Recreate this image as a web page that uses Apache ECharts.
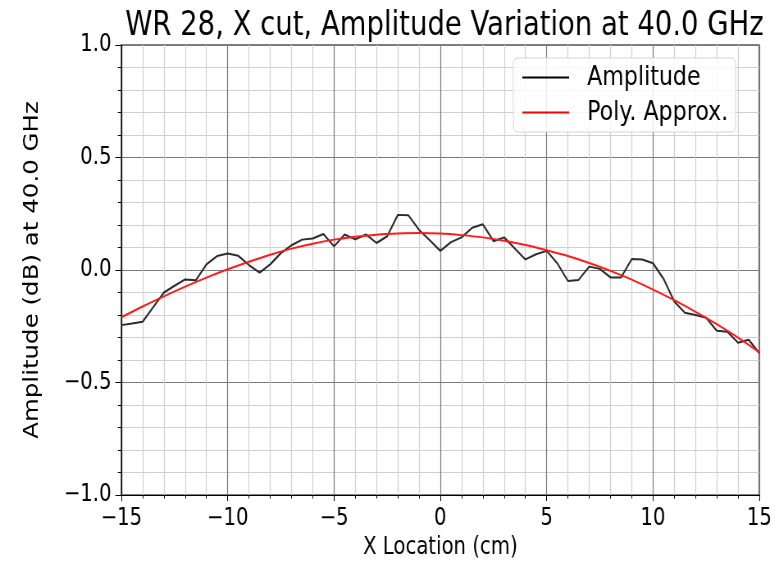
<!DOCTYPE html>
<html>
<head>
<meta charset="utf-8">
<script src="https://cdn.jsdelivr.net/npm/echarts@6/dist/echarts.min.js"></script>
<style>
html,body{margin:0;padding:0;background:#fff;overflow:hidden;width:779px;height:562px}
#wrap{position:relative;width:779px;height:562px;overflow:hidden}
#c{position:absolute;left:0;top:0;width:950px;height:562px;transform:scaleX(0.82);transform-origin:0 0}
</style>
</head>
<body>
<div id="wrap"><div id="c"></div></div>
<script>
const titleText = 'WR 28, X cut, Amplitude Variation at 40.0 GHz';
const xLabel = 'X Location (cm)';
const yLabel = 'Amplitude (dB) at 40.0 GHz';
const seriesNames = ['Amplitude', 'Poly. Approx.'];

const ampX = [-15,-14.5,-14,-13.5,-13,-12.5,-12,-11.5,-11,-10.5,-10,-9.5,-9,-8.5,-8,-7.5,-7,-6.5,-6,-5.5,-5,-4.5,-4,-3.5,-3,-2.5,-2,-1.5,-1,-0.5,0,0.5,1,1.5,2,2.5,3,3.5,4,4.5,5,5.5,6,6.5,7,7.5,8,8.5,9,9.5,10,10.5,11,11.5,12,12.5,13,13.5,14,14.5,15];
const ampY = [-0.245,-0.238,-0.230,-0.165,-0.100,-0.070,-0.042,-0.046,0.025,0.062,0.073,0.063,0.022,-0.012,0.025,0.075,0.110,0.135,0.140,0.160,0.105,0.158,0.136,0.158,0.120,0.150,0.245,0.243,0.178,0.132,0.085,0.124,0.145,0.188,0.203,0.128,0.145,0.096,0.047,0.070,0.085,0.030,-0.049,-0.044,0.015,0.005,-0.033,-0.033,0.049,0.047,0.030,-0.040,-0.140,-0.190,-0.200,-0.212,-0.270,-0.274,-0.323,-0.310,-0.370];

const polyX = [-15,-14,-13,-12,-11,-10,-9,-8,-7,-6,-5,-4,-3,-2,-1,0,1,2,3,4,5,6,7,8,9,10,11,12,13,14,15];
const polyY = [-0.210,-0.162,-0.117,-0.074,-0.034,0.003,0.037,0.068,0.095,0.117,0.135,0.148,0.157,0.162,0.164,0.162,0.155,0.145,0.130,0.111,0.088,0.062,0.031,-0.004,-0.043,-0.087,-0.134,-0.186,-0.241,-0.301,-0.366];

const xTicks = {min: -15, max: 15, interval: 5};
const yTicks = {min: -1, max: 1, interval: 0.5};

const pair = (xs, ys) => xs.map((x, i) => [x, ys[i]]);
const minus = s => String(s).replace('-', '\u2212');
const FONT = 'DejaVu Sans';

const chart = echarts.init(document.getElementById('c'), null, {renderer: 'canvas', width: 950, height: 562});
chart.setOption({
  animation: false,
  backgroundColor: '#fff',
  textStyle: {fontFamily: FONT},
  title: {
    text: titleText, left: 537, top: 4, textAlign: 'center',
    textStyle: {fontFamily: FONT, fontSize: 33.5, fontWeight: 'normal', color: '#000'}
  },
  grid: {left: 148, right: 24, top: 45, bottom: 67, outerBoundsMode: 'none', containLabel: false,
         show: true, borderColor: '#000', borderWidth: 1.2, backgroundColor: 'transparent'},
  legend: {
    orient: 'vertical', left: 626, top: 58,
    data: seriesNames,
    icon: 'rect', itemWidth: 57, itemHeight: 2, itemGap: 8,
    padding: [6, 9, 6, 11],
    backgroundColor: 'rgba(255,255,255,0.85)', borderColor: '#d5d5d5', borderWidth: 1, borderRadius: 5,
    textStyle: {fontFamily: FONT, fontSize: 27, color: '#000', padding: [0, 0, 0, 17]}
  },
  xAxis: {
    type: 'value', min: xTicks.min, max: xTicks.max, interval: xTicks.interval,
    name: xLabel, nameLocation: 'middle', nameGap: 41,
    nameTextStyle: {fontFamily: FONT, fontSize: 24, color: '#000'},
    axisLine: {show: true, onZero: false, lineStyle: {color: '#000', width: 1.2}},
    axisTick: {show: true, length: 6, lineStyle: {color: '#000'}},
    minorTick: {show: true, splitNumber: 5, length: 3.5, lineStyle: {color: '#000'}},
    axisLabel: {fontFamily: FONT, fontSize: 24, color: '#000', margin: 12, formatter: v => minus(v)},
    splitLine: {show: true, lineStyle: {color: '#7a7a7a', width: 1.2}},
    minorSplitLine: {show: true, lineStyle: {color: '#d0d0d0', width: 1.2}}
  },
  yAxis: {
    type: 'value', min: yTicks.min, max: yTicks.max, interval: yTicks.interval,
    name: yLabel, nameLocation: 'middle', nameGap: 96, nameRotate: 90,
    nameTextStyle: {fontFamily: FONT, fontSize: 24.5, color: '#000'},
    axisLine: {show: true, onZero: false, lineStyle: {color: '#000', width: 1.2}},
    axisTick: {show: true, length: 7.3, lineStyle: {color: '#000'}},
    minorTick: {show: true, splitNumber: 5, length: 4.3, lineStyle: {color: '#000'}},
    axisLabel: {fontFamily: FONT, fontSize: 24, color: '#000', margin: 12, formatter: v => minus(v.toFixed(1))},
    splitLine: {show: true, lineStyle: {color: '#7a7a7a', width: 1}},
    minorSplitLine: {show: true, lineStyle: {color: '#d0d0d0', width: 1}}
  },
  series: [
    {name: seriesNames[0], type: 'line', data: pair(ampX, ampY), showSymbol: false, symbol: 'none',
     lineStyle: {color: '#2b2b2b', width: 2}, itemStyle: {color: '#000'}, z: 3},
    {name: seriesNames[1], type: 'line', data: pair(polyX, polyY), showSymbol: false, symbol: 'none', smooth: 0.3,
     lineStyle: {color: '#ff1a1a', width: 2}, itemStyle: {color: '#ff0000'}, z: 4}
  ]
});
</script>
</body>
</html>
